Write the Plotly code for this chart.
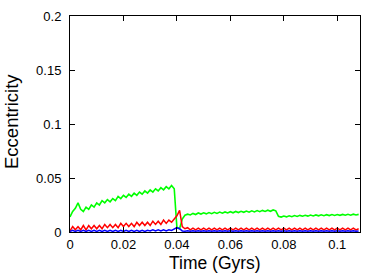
import plotly.graph_objects as go

time_gyr = [0.000, 0.001, 0.002, 0.003, 0.004, 0.005, 0.006, 0.007, 0.008, 0.009,
            0.010, 0.011, 0.012, 0.013, 0.014, 0.015, 0.016, 0.017, 0.018, 0.019,
            0.020, 0.021, 0.022, 0.023, 0.024, 0.025, 0.026, 0.027, 0.028, 0.029,
            0.030, 0.031, 0.032, 0.033, 0.034, 0.035, 0.036, 0.037, 0.038, 0.039,
            0.040, 0.041, 0.042, 0.043, 0.044, 0.045, 0.046, 0.047, 0.048, 0.049,
            0.050, 0.051, 0.052, 0.053, 0.054, 0.055, 0.056, 0.057, 0.058, 0.059,
            0.060, 0.061, 0.062, 0.063, 0.064, 0.065, 0.066, 0.067, 0.068, 0.069,
            0.070, 0.071, 0.072, 0.073, 0.074, 0.075, 0.076, 0.077, 0.078, 0.079,
            0.080, 0.081, 0.082, 0.083, 0.084, 0.085, 0.086, 0.087, 0.088, 0.089,
            0.090, 0.091, 0.092, 0.093, 0.094, 0.095, 0.096, 0.097, 0.098, 0.099,
            0.100, 0.101, 0.102, 0.103, 0.104, 0.105, 0.106, 0.107, 0.108]

ecc_green = [0.014, 0.019, 0.022, 0.027, 0.021, 0.019, 0.023, 0.021, 0.025, 0.023,
             0.027, 0.025, 0.029, 0.027, 0.030, 0.028, 0.031, 0.029, 0.033, 0.031,
             0.034, 0.032, 0.035, 0.033, 0.036, 0.034, 0.037, 0.035, 0.038, 0.036,
             0.039, 0.037, 0.040, 0.038, 0.041, 0.039, 0.042, 0.040, 0.043, 0.040,
             0.004, 0.003, 0.012, 0.0155, 0.0165, 0.0158, 0.0172, 0.0162, 0.0176, 0.0166,
             0.0178, 0.0168, 0.018, 0.017, 0.0182, 0.0172, 0.0184, 0.0174, 0.0186, 0.0176,
             0.0188, 0.0178, 0.019, 0.018, 0.0192, 0.0182, 0.0194, 0.0184, 0.0196, 0.0186,
             0.0198, 0.0188, 0.020, 0.019, 0.0202, 0.0192, 0.0204, 0.0196, 0.0145, 0.0138,
             0.0148, 0.014, 0.015, 0.0142, 0.0152, 0.0144, 0.0154, 0.0146, 0.0155, 0.0147,
             0.0157, 0.0149, 0.0158, 0.015, 0.0159, 0.0151, 0.016, 0.0152, 0.0161, 0.0153,
             0.0162, 0.0154, 0.0163, 0.0155, 0.0164, 0.0156, 0.0165, 0.0157, 0.0163]

ecc_red = [0.001, 0.005, 0.002, 0.005, 0.002, 0.006, 0.002, 0.006, 0.003, 0.006,
           0.003, 0.006, 0.003, 0.007, 0.004, 0.007, 0.004, 0.007, 0.004, 0.008,
           0.005, 0.008, 0.005, 0.008, 0.005, 0.009, 0.006, 0.009, 0.006, 0.009,
           0.006, 0.010, 0.007, 0.010, 0.007, 0.011, 0.008, 0.011, 0.009, 0.012,
           0.015, 0.020, 0.005, 0.003, 0.004, 0.002, 0.0035, 0.002, 0.0035, 0.002,
           0.0035, 0.002, 0.0035, 0.002, 0.0035, 0.002, 0.0035, 0.002, 0.0035, 0.002,
           0.0035, 0.002, 0.0035, 0.002, 0.0035, 0.002, 0.0035, 0.002, 0.0035, 0.002,
           0.0035, 0.002, 0.0035, 0.002, 0.0035, 0.002, 0.0035, 0.002, 0.0035, 0.002,
           0.0035, 0.002, 0.0035, 0.002, 0.0035, 0.002, 0.0035, 0.002, 0.0035, 0.002,
           0.0035, 0.002, 0.0035, 0.002, 0.0035, 0.002, 0.0035, 0.002, 0.0035, 0.002,
           0.0035, 0.002, 0.0035, 0.002, 0.0035, 0.002, 0.0035, 0.002, 0.003]

ecc_blue = [0.0005, 0.0015, 0.0005, 0.0015, 0.0005, 0.0015, 0.0005, 0.0015, 0.0005, 0.0015,
            0.0005, 0.0015, 0.0005, 0.0015, 0.0005, 0.0015, 0.0005, 0.0015, 0.0005, 0.0015,
            0.0005, 0.0015, 0.0005, 0.0015, 0.0005, 0.0015, 0.0005, 0.0015, 0.0005, 0.0015,
            0.001, 0.002, 0.001, 0.002, 0.001, 0.002, 0.001, 0.002, 0.0015, 0.003,
            0.004, 0.003, 0.001, 0.0008, 0.0012, 0.0008, 0.0012, 0.0008, 0.0012, 0.0008,
            0.0012, 0.0008, 0.0012, 0.0008, 0.0012, 0.0008, 0.0012, 0.0008, 0.0012, 0.0008,
            0.0012, 0.0008, 0.0012, 0.0008, 0.0012, 0.0008, 0.0012, 0.0008, 0.0012, 0.0008,
            0.0012, 0.0008, 0.0012, 0.0008, 0.0012, 0.0008, 0.0012, 0.0008, 0.0012, 0.0008,
            0.0012, 0.0008, 0.0012, 0.0008, 0.0012, 0.0008, 0.0012, 0.0008, 0.0012, 0.0008,
            0.0012, 0.0008, 0.0012, 0.0008, 0.0012, 0.0008, 0.0012, 0.0008, 0.0012, 0.0008,
            0.0012, 0.0008, 0.0012, 0.0008, 0.0012, 0.0008, 0.0012, 0.0008, 0.001]

x_ticks = [0, 0.02, 0.04, 0.06, 0.08, 0.1]
x_tick_labels = ["0", "0.02", "0.04", "0.06", "0.08", "0.1"]
y_ticks = [0, 0.05, 0.1, 0.15, 0.2]
y_tick_labels = ["0", "0.05", "0.1", "0.15", "0.2"]

fig = go.Figure()
for vals, col, w in [(ecc_green, "#00ff00", 1.6), (ecc_red, "#ff0000", 1.5), (ecc_blue, "#0000ff", 1.5)]:
    fig.add_trace(go.Scatter(x=time_gyr, y=vals, mode="lines",
                             line=dict(color=col, width=w), showlegend=False))

font = dict(family="Liberation Sans, Arial, sans-serif", color="black")
fig.update_layout(
    width=389, height=273,
    margin=dict(l=70, r=29, t=16, b=41, autoexpand=False),
    paper_bgcolor="white", plot_bgcolor="white",
    font=dict(**font, size=13),
)
axis_common = dict(showline=True, linecolor="black", linewidth=1, mirror="ticks",
                   ticks="inside", ticklen=5, tickcolor="black", showgrid=False,
                   zeroline=False, tickfont=dict(**font, size=13), automargin=False)
fig.update_xaxes(range=[0, 0.1085], tickvals=x_ticks, ticktext=x_tick_labels, **axis_common)
fig.update_yaxes(range=[0, 0.2], tickvals=y_ticks, ticktext=y_tick_labels,
                 ticklabelstandoff=5, **axis_common)

fig.add_annotation(text="Eccentricity", xref="paper", yref="paper", x=0, y=0.5,
                   xanchor="center", yanchor="middle", xshift=-59, yshift=2, textangle=-90,
                   showarrow=False, font=dict(**font, size=18.5))
fig.add_annotation(text="Time (Gyrs)", xref="paper", yref="paper", x=0.5, y=0,
                   xanchor="center", yanchor="middle", yshift=-31,
                   showarrow=False, font=dict(**font, size=17.5))

fig.write_html("out.html", config={"displayModeBar": False},
               post_script="document.body.style.margin='0';")
